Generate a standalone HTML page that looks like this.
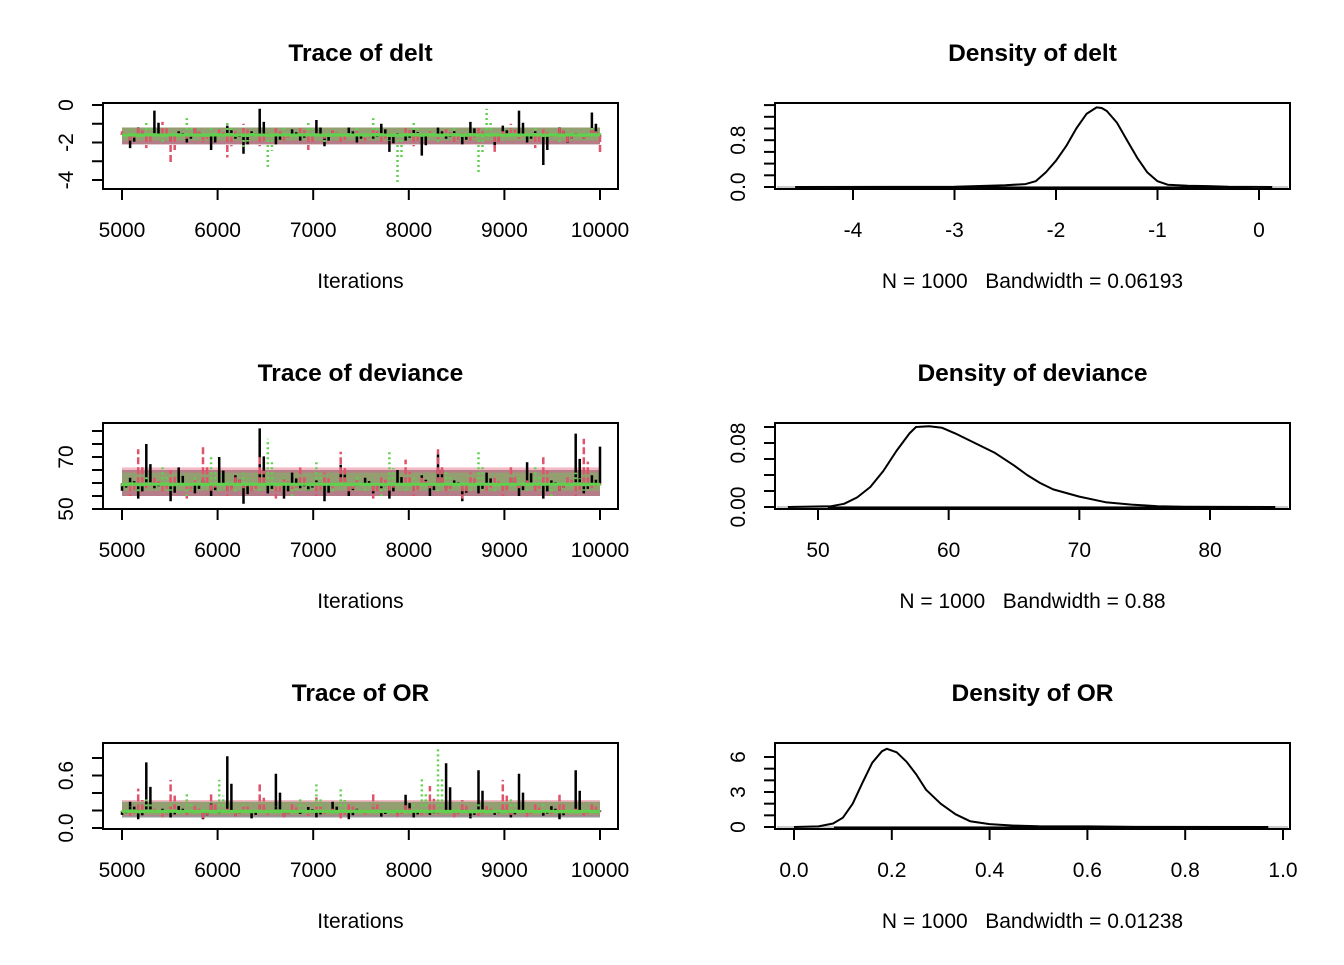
<!DOCTYPE html>
<html><head><meta charset="utf-8"><style>
body{margin:0;background:#fff}
svg text{font-family:"Liberation Sans",Arial,sans-serif;fill:#000;white-space:pre}
</style></head><body>
<svg id="s" width="1344" height="960" xmlns="http://www.w3.org/2000/svg"></svg>
<script>
const iterStart = 5000, iterEnd = 10000;
const xTicksTrace = [5000,6000,7000,8000,9000,10000];

const deltBlack = [-1.5,-2.3,-1.2,-1.8,-0.3,-1.6,-1.9,-1.4,-2.0,-1.3,-1.7,-2.4,-1.5,-1.1,-1.8,-2.6,-1.4,-0.2,-1.7,-2.1,-1.5,-1.3,-1.9,-1.6,-0.8,-2.2,-1.4,-1.7,-1.2,-2.0,-1.6,-1.8,-1.0,-2.5,-1.5,-1.9,-1.3,-2.7,-1.6,-1.2,-1.8,-1.4,-2.1,-0.9,-1.7,-1.5,-2.3,-1.1,-1.6,-0.3,-2.0,-1.4,-3.2,-1.6,-1.2,-2.0,-1.5,-1.8,-0.4,-1.7];
const deltRed = [-1.4,-1.9,-1.1,-2.3,-1.6,-0.9,-3.2,-1.5,-1.8,-1.2,-2.0,-1.6,-1.3,-2.8,-1.4,-1.0,-1.7,-2.2,-1.5,-1.2,-1.9,-1.6,-1.1,-2.4,-1.5,-1.8,-1.3,-2.1,-1.6,-1.4,-1.9,-1.2,-2.0,-1.5,-1.7,-1.1,-2.2,-1.6,-1.4,-1.8,-1.3,-2.1,-1.5,-1.9,-1.2,-1.7,-2.5,-1.4,-1.0,-1.8,-1.6,-2.3,-1.3,-1.7,-1.1,-2.0,-1.5,-1.8,-1.2,-2.6];
const deltGreen = [-1.6,-1.3,-1.8,-0.9,-1.5,-2.0,-1.4,-1.7,-0.7,-1.6,-1.9,-1.2,-1.5,-0.8,-1.7,-2.3,-1.4,-1.6,-3.3,-1.5,-1.1,-1.8,-1.4,-0.9,-1.6,-2.0,-1.3,-1.7,-1.5,-1.2,-1.8,-0.7,-1.5,-1.9,-4.1,-1.4,-0.9,-1.7,-1.3,-2.1,-1.5,-1.2,-1.8,-1.4,-3.7,-0.2,-1.6,-1.9,-1.3,-1.7,-1.5,-1.1,-1.8,-1.4,-2.0,-1.3,-1.6,-1.8,-1.2,-1.5];

const devBlack = [57,62,54,75,58,60,53,66,59,56,61,55,70,57,63,52,59,81,56,60,54,64,58,57,61,53,60,67,55,59,62,56,58,54,65,60,57,63,55,71,58,61,53,60,56,64,59,57,62,55,68,58,54,61,57,60,79,56,63,74];
const devRed = [60,55,73,58,62,56,65,59,54,61,74,57,60,55,63,58,56,70,59,54,62,57,66,60,55,64,58,72,56,61,59,54,63,57,60,69,55,62,58,73,56,60,54,64,59,57,62,55,67,58,61,56,70,59,57,63,55,77,58,60];
const devGreen = [58,61,56,63,59,66,57,60,55,62,58,71,57,61,56,64,59,57,77,58,62,55,60,57,68,59,56,61,58,63,57,60,55,72,59,57,62,58,60,56,65,58,61,57,73,59,56,60,58,62,57,66,59,55,61,58,64,57,60,59];

const orBlack = [0.15,0.30,0.10,0.75,0.18,0.22,0.12,0.25,0.16,0.20,0.10,0.28,0.17,0.82,0.14,0.21,0.11,0.26,0.18,0.62,0.13,0.20,0.16,0.24,0.12,0.19,0.30,0.15,0.10,0.22,0.17,0.25,0.13,0.20,0.16,0.38,0.12,0.21,0.15,0.18,0.74,0.14,0.22,0.11,0.66,0.19,0.15,0.23,0.12,0.62,0.17,0.20,0.14,0.25,0.10,0.18,0.66,0.15,0.21,0.20];
const orRed = [0.20,0.14,0.45,0.17,0.22,0.12,0.55,0.19,0.15,0.25,0.11,0.40,0.18,0.22,0.13,0.30,0.17,0.50,0.15,0.20,0.12,0.28,0.18,0.14,0.35,0.16,0.22,0.11,0.30,0.19,0.15,0.42,0.17,0.21,0.13,0.26,0.18,0.15,0.48,0.16,0.20,0.12,0.32,0.18,0.14,0.25,0.17,0.55,0.15,0.21,0.13,0.28,0.19,0.16,0.38,0.17,0.22,0.14,0.30,0.18];
const orGreen = [0.18,0.25,0.15,0.35,0.20,0.13,0.30,0.17,0.40,0.16,0.22,0.14,0.55,0.19,0.15,0.28,0.17,0.21,0.13,0.25,0.18,0.16,0.33,0.15,0.50,0.19,0.14,0.45,0.17,0.22,0.15,0.26,0.18,0.14,0.21,0.16,0.30,0.58,0.17,0.92,0.15,0.24,0.18,0.13,0.28,0.16,0.20,0.14,0.35,0.17,0.19,0.15,0.27,0.18,0.14,0.22,0.16,0.25,0.15,0.19];

const deltDensX = [-4.57,-3,-2.5,-2.3,-2.2,-2.1,-2.0,-1.9,-1.8,-1.7,-1.6,-1.55,-1.5,-1.4,-1.3,-1.2,-1.1,-1.0,-0.9,-0.7,-0.5,-0.3,0.13];
const deltDensY = [0,0.005,0.03,0.05,0.1,0.25,0.45,0.7,1.0,1.25,1.36,1.35,1.3,1.1,0.8,0.5,0.25,0.1,0.04,0.02,0.015,0.003,0];
const devDensX = [47.7,51,52,53,54,55,56,57,57.5,58.5,59.5,60.5,62,63.5,65,66,67,68,70,72,74,76,78,85];
const devDensY = [0,0.001,0.004,0.012,0.025,0.045,0.07,0.092,0.1,0.101,0.099,0.092,0.08,0.068,0.052,0.04,0.03,0.022,0.013,0.006,0.003,0.001,0.0003,0];
const orDensX = [0,0.05,0.08,0.1,0.12,0.14,0.16,0.18,0.19,0.21,0.23,0.25,0.27,0.3,0.33,0.36,0.4,0.45,0.5,0.6,0.7,0.97];
const orDensY = [0,0.05,0.3,0.8,2.0,3.8,5.5,6.5,6.7,6.4,5.6,4.5,3.2,2.0,1.1,0.5,0.25,0.12,0.06,0.05,0.01,0];

const S = document.getElementById('s');
const NS = 'http://www.w3.org/2000/svg';
function mk(tag, attrs, name, parent){
  const e = document.createElementNS(NS, tag);
  for (const k in attrs) e.setAttribute(k, attrs[k]);
  
  
  (parent||S).appendChild(e);
  return e;
}
function txt(x,y,s,size,name,opts){
  const t = mk('text',{x:x,y:y,'font-size':size,'text-anchor':'middle'},name);
  if(opts&&opts.bold) t.setAttribute('font-weight','bold');
  if(opts&&opts.rot) t.setAttribute('transform','rotate(-90 '+x+' '+y+')');
  t.textContent = s;
  return t;
}
function lin(d0,d1,r0,r1){ return v => r0 + (v-d0)*(r1-r0)/(d1-d0); }
function pct(arr,p){ const s=[...arr].sort((a,b)=>a-b); return s[Math.round(p*(s.length-1))]; }

function panel(o){
  const g = mk('g',{},o.id);
  mk('rect',{x:o.box[0],y:o.box[1],width:o.box[2]-o.box[0],height:o.box[3]-o.box[1],fill:'none',stroke:'#000','stroke-width':2},o.id+'-frame',g);
  txt((o.box[0]+o.box[2])/2, o.box[1]-42, o.title, 24.5, o.id+'-title',{bold:true});
  o.xt.forEach((v,i)=>{
    const x=o.xs(v);
    mk('line',{x1:x,x2:x,y1:o.box[3],y2:o.box[3]+11,stroke:'#000','stroke-width':2},o.id+'-x-tick',g);
    txt(x,o.box[3]+48,o.xl[i],21,o.id+'-x-tick-label');
  });
  o.yt.forEach(v=>{
    const y=o.ys(v);
    mk('line',{x1:o.box[0]-11,x2:o.box[0],y1:y,y2:y,stroke:'#000','stroke-width':2},o.id+'-y-tick',g);
  });
  o.yl.forEach(p=>{ txt(o.box[0]-30,o.ys(p[0]),p[1],21,o.id+'-y-tick-label',{rot:true}); });
  txt((o.box[0]+o.box[2])/2, o.box[3]+99, o.sub, 21, o.id+'-x-axis-title');
  return g;
}

function trace(id,box,title,yd,yt,yl,chains,mean){
  const xs = lin(iterStart,iterEnd,122,600), ys = lin(yd[0],yd[1],yd[2],yd[3]);
  const g = panel({id,box,title,xs,ys,xt:xTicksTrace,xl:xTicksTrace.map(String),yt,yl,sub:'Iterations'});
  const cols=['#000000','#DF536B','#61D04F'], dash=['none','7,3','2,3'], names=['chain-1','chain-2','chain-3'];
  chains.forEach((c,k)=>{
    const lo=pct(c,0.15), hi=pct(c,0.85);
    mk('rect',{x:xs(iterStart),y:ys(hi),width:xs(iterEnd)-xs(iterStart),height:Math.abs(ys(lo)-ys(hi)),fill:cols[k],opacity:0.4},id+'-'+names[k]+'-core-band',g);
  });
  chains.forEach((c,k)=>{
    let d='';
    c.forEach((v,i)=>{
      const x=xs(iterStart+(iterEnd-iterStart)*i/(c.length-1)).toFixed(1), y=ys(v).toFixed(1), ym=ys(mean).toFixed(1);
      d+='M'+x+','+ym+'V'+y+' ';
      if(i>0){ const xp=xs(iterStart+(iterEnd-iterStart)*(i-0.5)/(c.length-1)).toFixed(1); d+='M'+xp+','+ym+'V'+ys(c[i-1]*0.5+mean*0.5).toFixed(1)+' '; }
    });
    mk('path',{d:d,fill:'none',stroke:cols[k],'stroke-width':2.5,'stroke-dasharray':dash[k]},id+'-'+names[k]+'-trace',g);
  });
  mk('line',{x1:xs(iterStart),x2:xs(iterEnd),y1:ys(mean),y2:ys(mean),stroke:'#61D04F','stroke-width':3},id+'-mean-line',g);
}
function dens(id,box,title,xd,xt,xl,yd,yt,yl,dx,dy,sub){
  const xs=lin(xd[0],xd[1],xd[2],xd[3]), ys=lin(yd[0],yd[1],yd[2],yd[3]);
  const g = panel({id,box,title,xs,ys,xt,xl,yt,yl,sub});
  mk('line',{x1:box[0]+2,x2:box[2]-2,y1:ys(0),y2:ys(0),stroke:'#bbb','stroke-width':1.5},id+'-zero-line',g);
  mk('line',{x1:xs(dx[0])+40,x2:xs(dx[dx.length-1])-20,y1:ys(0)+0.5,y2:ys(0)+0.5,stroke:'#000','stroke-width':2},id+'-rug',g);
  const pts=dx.map((v,i)=>xs(v).toFixed(1)+','+ys(dy[i]).toFixed(1)).join(' ');
  mk('polyline',{points:pts,fill:'none',stroke:'#000','stroke-width':2,'stroke-linejoin':'round'},id+'-density-curve',g);
}

trace('trace-delt',[103,103,618,189],'Trace of delt',[0,-4,105,180],[0,-1,-2,-3,-4],[[0,'0'],[-2,'-2'],[-4,'-4']],[deltBlack,deltRed,deltGreen],-1.6);
trace('trace-deviance',[103,423,618,509],'Trace of deviance',[50,80,509,431],[50,55,60,65,70,75,80],[[50,'50'],[70,'70']],[devBlack,devRed,devGreen],59.5);
trace('trace-or',[103,743,618,829],'Trace of OR',[0,0.8,828,758],[0,0.2,0.4,0.6,0.8],[[0,'0.0'],[0.6,'0.6']],[orBlack,orRed,orGreen],0.19);

dens('density-delt',[775,103,1290,189],'Density of delt',[-4,0,853,1259],[-4,-3,-2,-1,0],['-4','-3','-2','-1','0'],[0,1,187,128.5],[0,0.2,0.4,0.6,0.8,1.0,1.2,1.4],[[0,'0.0'],[0.8,'0.8']],deltDensX,deltDensY,'N = 1000   Bandwidth = 0.06193');
dens('density-deviance',[775,423,1290,509],'Density of deviance',[50,80,818,1210],[50,60,70,80],['50','60','70','80'],[0,0.1,507,427],[0,0.02,0.04,0.06,0.08,0.1],[[0,'0.00'],[0.08,'0.08']],devDensX,devDensY,'N = 1000   Bandwidth = 0.88');
dens('density-or',[775,743,1290,829],'Density of OR',[0,1,794,1283],[0,0.2,0.4,0.6,0.8,1.0],['0.0','0.2','0.4','0.6','0.8','1.0'],[0,6,827,757],[0,1,2,3,4,5,6],[[0,'0'],[3,'3'],[6,'6']],orDensX,orDensY,'N = 1000   Bandwidth = 0.01238');
</script>
</body></html>
